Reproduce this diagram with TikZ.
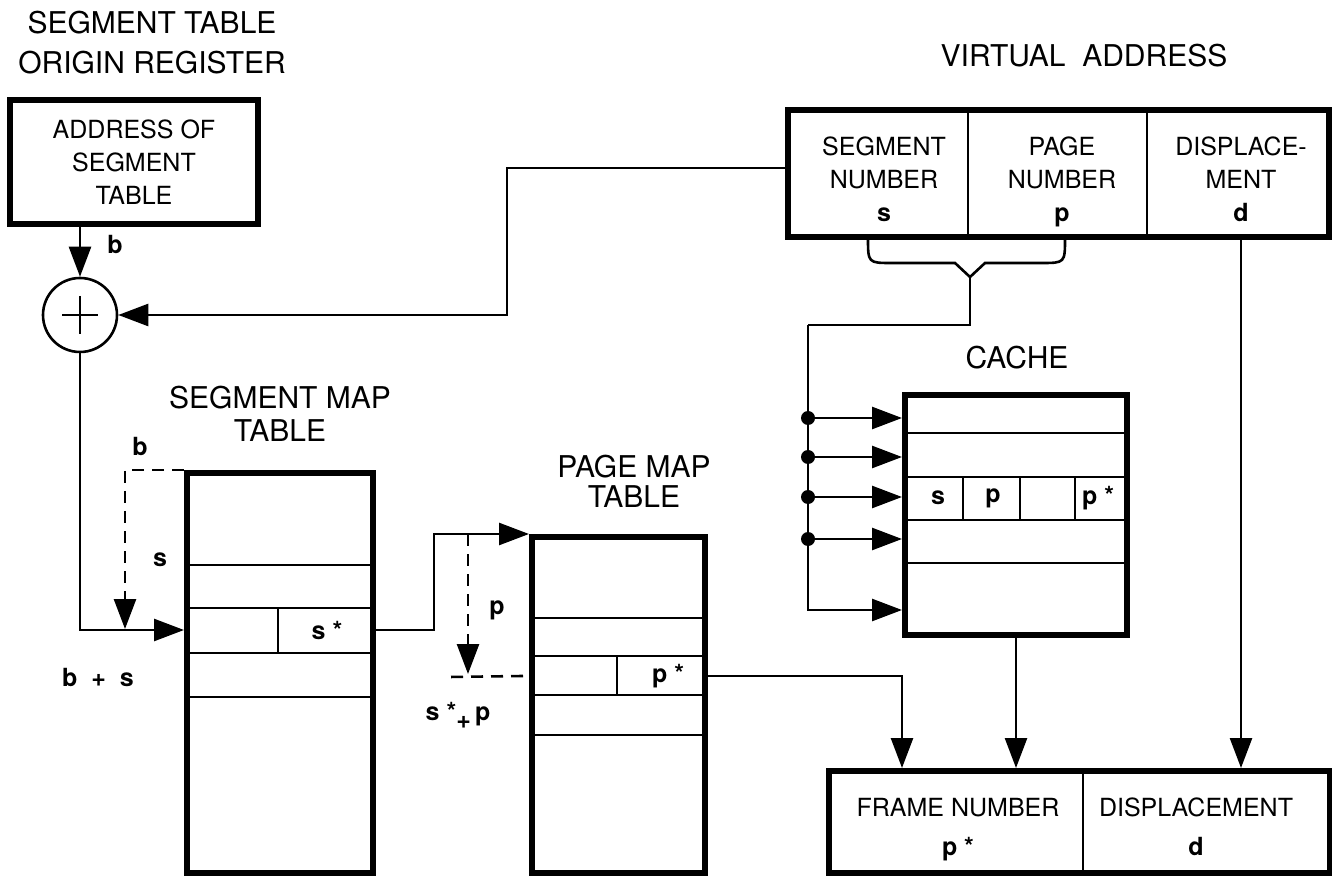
\documentclass[tikz,border=0pt]{standalone}
\usepackage{fontspec}
\setmainfont{TeX Gyre Heros}
\usepackage{tikz}
\usetikzlibrary{arrows.meta, positioning, calc}
\tikzstyle{arrow} = [line width=1.3pt,-{Triangle[length=15pt,width=11pt]}]
\tikzstyle{line} = [line width=1.3pt,-]

\begin{document}
\begin{tikzpicture}[
    x=0.5pt, y=-0.5pt,
    heavy/.style={rectangle, draw, line width=3pt, inner sep=0pt},
    rowline/.style={line width=1.3pt},
    dashline/.style={line width=1.3pt, dash pattern=on 6pt off 4pt},
    title/.style={font=\fontsize{15}{20}\selectfont, align=center},
    cell/.style={font=\fontsize{12.5}{16.5}\selectfont, align=center},
    var/.style={font=\fontsize{12.5}{14}\selectfont\bfseries, inner sep=1pt},
    dot/.style={circle, fill, inner sep=0pt, minimum size=7pt}
]
\useasboundingbox[fill=white] (0,0) rectangle (1332,876);

% titles
\node[title] (stortitle) at (152,43) {SEGMENT TABLE\\ORIGIN REGISTER};
\node[title] (vatitle) at (1084,56) {VIRTUAL\ \ ADDRESS};
\node[title, font=\fontsize{15}{16.5}\selectfont] (smttitle) at (280,414) {SEGMENT MAP\\TABLE};
\node[title, font=\fontsize{15}{15}\selectfont] (pmttitle) at (634,481) {PAGE MAP\\TABLE};
\node[title] (cachetitle) at (1017,358) {CACHE};

% segment table origin register and adder
\node[heavy, cell, minimum width=124pt, minimum height=62pt] (stor) at (134,162) {ADDRESS OF\\SEGMENT\\TABLE};
\node[circle, draw, line width=1.3pt, minimum size=37pt, inner sep=0pt] (adder) at (80,315) {};
\draw[line width=1.3pt] (62,315) -- (98,315) (80,296) -- (80,334);
\draw[arrow] (stor.south -| adder) -- (adder.north);
\node[var] (bl1) at (115,245) {b};

% virtual address
\node[heavy, minimum width=270.5pt, minimum height=63.5pt] (va) at (1058.5,173.5) {};
\draw[rowline] (968,110) -- (968,237) (1147,110) -- (1147,237);
\node[cell] (vas) at (884,184) {SEGMENT\\NUMBER\\\textbf{s}\strut};
\node[cell] (vap) at (1062,184) {PAGE\\NUMBER\\\textbf{p}\strut};
\node[cell] (vad) at (1241,184) {DISPLACE-\\MENT\\\textbf{d}\strut};
\draw[line] (868,238) .. controls (868,263) and (868,263) .. (892,263) -- (955,263)
    -- (970,277) coordinate (bracetip) -- (985,263) -- (1041,263)
    .. controls (1065,263) and (1065,263) .. (1065,238);
\draw[arrow] ([yshift=2.75pt]va.west) -- ++(-278,0) |- (adder.east);

% cache
\node[heavy, minimum width=111pt, minimum height=120pt] (cache) at (1016,515) {};
\foreach \y in {433,477,520,563}
    \draw[rowline] (905,\y) -- (1127,\y);
\foreach \x in {963,1020,1075}
    \draw[rowline] (\x,477) -- (\x,520);
\node[var] (cs) at (938,498) {s};
\node[var] (cp) at (993,498) {p};
\node[var] (cpstar) at (1098,498) {p *};
\draw[line] (bracetip) |- (808,325) coordinate (bustop);
\draw[arrow] (bustop) |- (cache.west |- 0,610);
\foreach \y in {418,457,497,539} {
    \node[dot] (tap\y) at (808,\y) {};
    \draw[arrow] (tap\y) -- (cache.west |- tap\y);
}

% segment map table
\node[heavy, minimum width=93pt, minimum height=200pt] (smt) at (280,673) {};
\foreach \y in {565,608,653,697}
    \draw[rowline] (187,\y) -- (373,\y);
\draw[rowline] (278,608) -- (278,653);
\node[var] (sstar) at (327,630) {s *};
\draw[arrow] (adder.south) |- (smt.west |- sstar);
\draw[dashline, -{Triangle[length=15pt,width=11pt]}] (smt.north west) -- ++(-59,0) -- ++(0,159);
\node[var] (bl2) at (140,447) {b};
\node[var] (sl) at (160,560) {s};
\node[var] (bsl) at (98,677) {b~ + ~s};

% page map table
\node[heavy, minimum width=86.5pt, minimum height=168pt] (pmt) at (618.5,705) {};
\foreach \y in {618,656,695,735}
    \draw[rowline] (532,\y) -- (705,\y);
\draw[rowline] (617,656) -- (617,695);
\node[var] (pstar) at (668,676) {p *};
\draw[arrow] (smt.east |- sstar) -- ++(58,0) |- (pmt.north west);
\draw[dashline, -{Triangle[length=15pt,width=11pt]}] ($(pmt.north west)+(-61,0)$) -- ++(0,140);
\draw[dashline] ([xshift=-3pt]pmt.west |- pstar) -- (448,677);
\node[var] (pl) at (497,610) {p};
\node[var] (spl) at (458,715) {s *\raisebox{-4pt}{+}\,p};

% frame number + displacement
\node[heavy, minimum width=250.5pt, minimum height=51pt] (frame) at (1079.5,822) {};
\draw[rowline] (1083,771) -- (1083,873);
\node[cell] (fnum) at (958,832) {FRAME NUMBER\\[3pt]\textbf{p *}\strut};
\node[cell] (fdisp) at (1196,832) {DISPLACEMENT\\[3pt]\textbf{d}\strut};
\draw[arrow] (pmt.east |- pstar) -| ($(frame.north west)+(76,0)$);
\draw[arrow] (cache.south) -- (cache.south |- frame.north);
\draw[arrow] (vad |- va.south) -- (vad |- frame.north);
\end{tikzpicture}
\end{document}
